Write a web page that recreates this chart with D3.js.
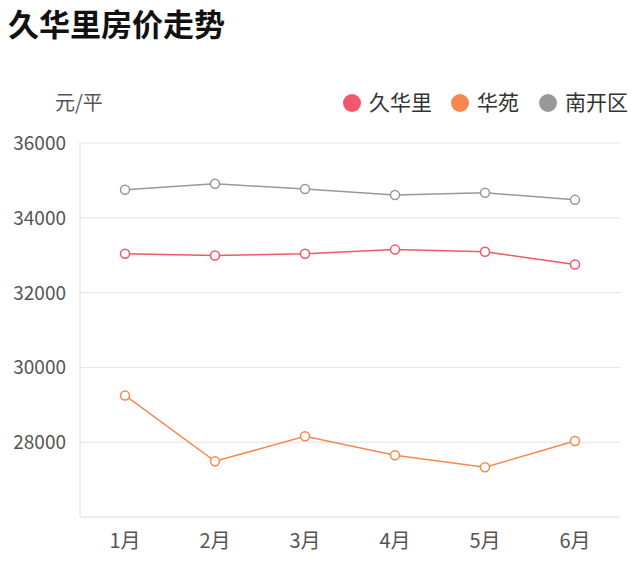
<!DOCTYPE html><html><head><meta charset="utf-8"><script src="https://cdn.jsdelivr.net/npm/d3@7"></script>
<style>body{margin:0;background:#fff;font-family:"Noto Sans CJK SC","Noto Sans",sans-serif}</style></head><body><svg id="c" width="640" height="570"></svg>
<script>
const months=["1月","2月","3月","4月","5月","6月"];
const jiuhuali=[33040,32990,33040,33150,33090,32750];
const huayuan=[29250,27490,28160,27650,27330,28030];
const nankai=[34750,34910,34770,34610,34670,34480];
const yTicks=[28000,30000,32000,34000,36000];
const names=["久华里","华苑","南开区"];
const colors=["#f4566a","#f7874f","#999999"];
const svg=d3.select("#c");
svg.append("text").attr("x",8).attr("y",36).attr("font-size",31).attr("font-weight","bold").attr("fill","#111").text("久华里房价走势");
const L=80,R=620,T=143,B=517;
const x=d3.scaleBand().domain(months).range([L,R]);
const y=d3.scaleLinear().domain([26000,36000]).range([B,T]);
yTicks.forEach(t=>{svg.append("line").attr("x1",L).attr("x2",R).attr("y1",y(t)).attr("y2",y(t)).attr("stroke","#e3e3e3");
svg.append("text").attr("x",66).attr("y",y(t)+7).attr("text-anchor","end").attr("font-size",19).attr("fill","#555").text(t);});
svg.append("line").attr("x1",L).attr("x2",L).attr("y1",T).attr("y2",B).attr("stroke","#ddd");
svg.append("line").attr("x1",L).attr("x2",R).attr("y1",B).attr("y2",B).attr("stroke","#ddd");
months.forEach(m=>svg.append("text").attr("x",x(m)+x.bandwidth()/2).attr("y",548).attr("text-anchor","middle").attr("font-size",20).attr("fill","#555").text(m));
svg.append("text").attr("x",55).attr("y",110).attr("font-size",20).attr("fill","#555").text("元/平");
const lx=[352,460,548];
names.forEach((n,i)=>{svg.append("circle").attr("cx",lx[i]).attr("cy",103).attr("r",9).attr("fill",colors[i]);
svg.append("text").attr("x",lx[i]+17).attr("y",110).attr("font-size",21).attr("fill","#333").text(n);});
[jiuhuali,huayuan,nankai].forEach((s,i)=>{
const line=d3.line().x((d,j)=>x(months[j])+x.bandwidth()/2).y(d=>y(d));
svg.append("path").attr("d",line(s)).attr("fill","none").attr("stroke",colors[i]).attr("stroke-width",1.5);
s.forEach((d,j)=>svg.append("circle").attr("cx",x(months[j])+x.bandwidth()/2).attr("cy",y(d)).attr("r",4.5).attr("fill","#fff").attr("stroke",colors[i]).attr("stroke-width",1.5));
});
</script></body></html>
